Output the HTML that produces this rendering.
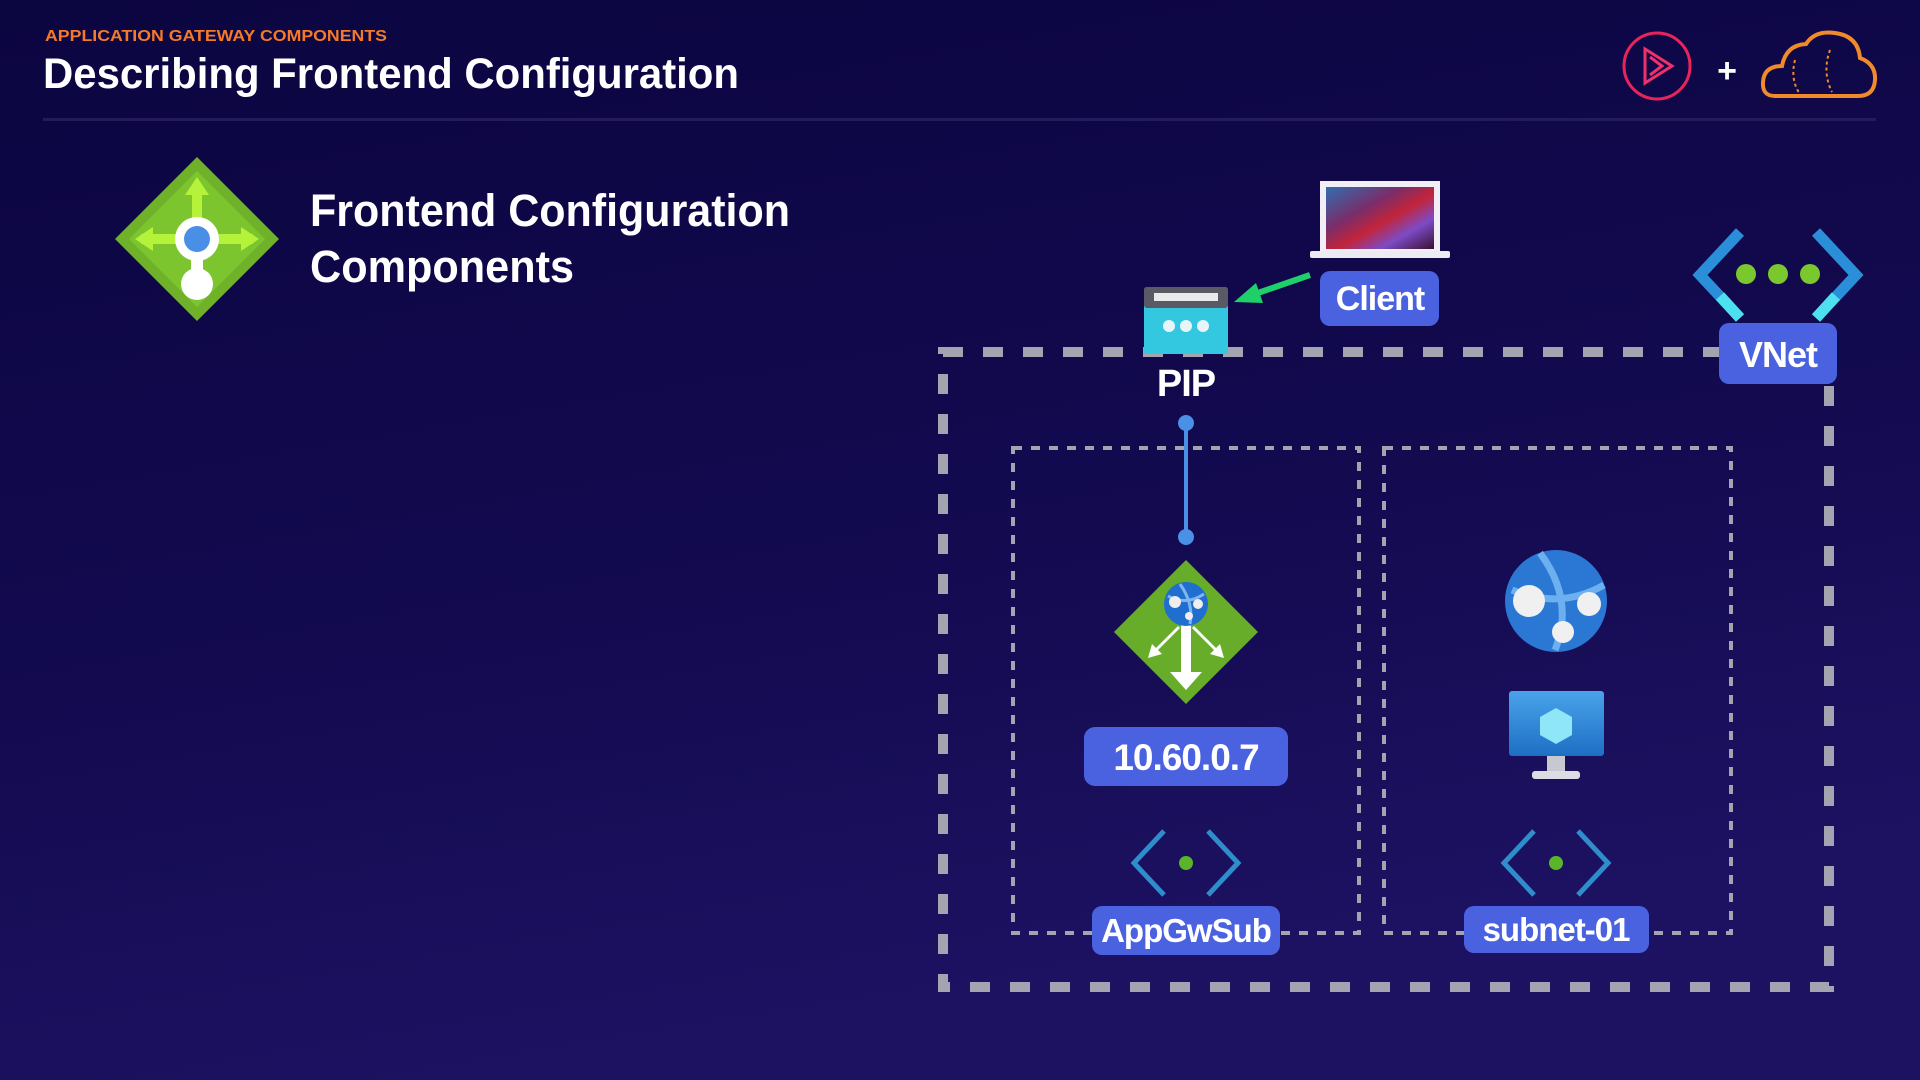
<!DOCTYPE html>
<html><head><meta charset="utf-8"><style>
html,body{margin:0;padding:0;width:1920px;height:1080px;overflow:hidden;background:#0c0640}
svg{display:block}
text{font-family:"Liberation Sans",sans-serif;font-weight:bold}
</style></head><body>
<svg width="1920" height="1080" viewBox="0 0 1920 1080" xmlns="http://www.w3.org/2000/svg">
<defs>
<linearGradient id="bg" x1="0" y1="0" x2="0.3" y2="1">
<stop offset="0" stop-color="#0b0540"/><stop offset="0.6" stop-color="#130a50"/><stop offset="1" stop-color="#1d1262"/>
</linearGradient>
<linearGradient id="scr" x1="0" y1="0" x2="1" y2="1">
<stop offset="0" stop-color="#2f6fb0"/><stop offset="0.35" stop-color="#7a2d6a"/><stop offset="0.55" stop-color="#c2243a"/><stop offset="0.75" stop-color="#7d4bc6"/><stop offset="1" stop-color="#3a1030"/>
</linearGradient>
<linearGradient id="mon" x1="0" y1="0" x2="0" y2="1"><stop offset="0" stop-color="#4aa3ea"/><stop offset="1" stop-color="#1d6fc4"/></linearGradient>
</defs>
<rect width="1920" height="1080" fill="url(#bg)"/>

<!-- header -->
<text x="45" y="41" font-size="16" fill="#f47a2a" textLength="342" lengthAdjust="spacingAndGlyphs">APPLICATION GATEWAY COMPONENTS</text>
<text x="43" y="88" font-size="43" fill="#ffffff" textLength="696" lengthAdjust="spacingAndGlyphs">Describing Frontend Configuration</text>
<rect x="43" y="118" width="1833" height="3" fill="#241c5a"/>

<!-- logos -->
<circle cx="1657" cy="66" r="33" fill="none" stroke="#e8245a" stroke-width="3"/>
<path d="M1645 49 L1672 66 L1645 83 Z M1650 57 L1662 66 L1650 75" fill="none" stroke="#f0306a" stroke-width="3"/>
<text x="1727" y="82" font-size="34" fill="#fff" text-anchor="middle">+</text>
<path d="M1775 96 Q1762 96 1763 82 Q1764 66 1782 66 Q1786 45 1806 44 Q1815 30 1835 33 Q1858 36 1860 58 Q1876 64 1875 80 Q1874 96 1858 96 Z" fill="none" stroke="#f08a2a" stroke-width="4"/>
<path d="M1795 60 Q1790 80 1800 94 M1830 50 Q1822 72 1832 92" fill="none" stroke="#f08a2a" stroke-width="2" stroke-dasharray="3 3"/>

<!-- big icon -->
<g transform="translate(197,239)">
<polygon points="0,-82 82,0 0,82 -82,0" fill="#6fb22a"/>
<polygon points="0,-68 68,0 0,68 -68,0" fill="#7cc52e"/>
<path d="M0 -62 L-12 -44 L12 -44 Z M-62 0 L-44 -12 L-44 12 Z M62 0 L44 -12 L44 12 Z" fill="#b5f23a"/>
<rect x="-56" y="-5" width="112" height="10" fill="#b5f23a"/>
<rect x="-5" y="-48" width="10" height="60" fill="#b5f23a"/>
<circle cx="0" cy="0" r="22" fill="#fff"/>
<circle cx="0" cy="0" r="13" fill="#4a8fe6"/>
<rect x="-6" y="18" width="12" height="20" fill="#fff"/>
<circle cx="0" cy="45" r="16" fill="#fff"/>
</g>
<text x="310" y="226" font-size="45" fill="#fff" textLength="480" lengthAdjust="spacingAndGlyphs">Frontend Configuration</text>
<text x="310" y="282" font-size="45" fill="#fff" textLength="264" lengthAdjust="spacingAndGlyphs">Components</text>

<!-- outer vnet -->
<rect x="943" y="352" width="886" height="635" fill="none" stroke="#a4a4b0" stroke-width="10" stroke-dasharray="20 20"/>
<!-- inner subnets -->
<rect x="1013" y="448" width="346" height="485" fill="none" stroke="#a4a4b0" stroke-width="4" stroke-dasharray="9 9"/>
<rect x="1384" y="448" width="347" height="485" fill="none" stroke="#a4a4b0" stroke-width="4" stroke-dasharray="9 9"/>

<!-- PIP -->
<rect x="1144" y="287" width="84" height="67" rx="3" fill="#33c8e0"/>
<rect x="1144" y="287" width="84" height="21" rx="3" fill="#5a5a66"/>
<rect x="1154" y="293" width="64" height="8" fill="#eaeaea"/>
<circle cx="1169" cy="326" r="6" fill="#e8f4f8"/><circle cx="1186" cy="326" r="6" fill="#e8f4f8"/><circle cx="1203" cy="326" r="6" fill="#e8f4f8"/>
<text x="1186" y="396" font-size="38" fill="#fff" text-anchor="middle" letter-spacing="-1">PIP</text>
<line x1="1186" y1="423" x2="1186" y2="537" stroke="#4a90e6" stroke-width="4"/>
<circle cx="1186" cy="423" r="8" fill="#4a90e6"/><circle cx="1186" cy="537" r="8" fill="#4a90e6"/>

<!-- client -->
<rect x="1320" y="181" width="120" height="72" fill="#f2eef6"/>
<rect x="1326" y="187" width="108" height="62" fill="url(#scr)"/>
<rect x="1310" y="251" width="140" height="7" rx="2" fill="#ecebf2"/>
<rect x="1320" y="271" width="119" height="55" rx="10" fill="#4a62e0"/>
<text x="1380" y="310" font-size="34" fill="#fff" text-anchor="middle" letter-spacing="-1">Client</text>
<line x1="1310" y1="275" x2="1255" y2="294" stroke="#1fcf6a" stroke-width="6"/>
<polygon points="1234,302 1256,283 1263,303" fill="#1fcf6a"/>

<!-- VNet icon -->
<path d="M1740 232 L1700 275 L1740 318" fill="none" stroke="#2a8fd8" stroke-width="11"/>
<path d="M1816 232 L1856 275 L1816 318" fill="none" stroke="#2a8fd8" stroke-width="11"/>
<path d="M1720 296 L1740 318 M1836 296 L1816 318" stroke="#4de0f0" stroke-width="11"/>
<circle cx="1746" cy="274" r="10" fill="#7ac72e"/><circle cx="1778" cy="274" r="10" fill="#7ac72e"/><circle cx="1810" cy="274" r="10" fill="#7ac72e"/>
<rect x="1719" y="323" width="118" height="61" rx="10" fill="#4a62e0"/>
<text x="1778" y="367" font-size="36" fill="#fff" text-anchor="middle" letter-spacing="-1">VNet</text>

<!-- App gateway -->
<g transform="translate(1186,632)">
<polygon points="0,-72 72,0 0,72 -72,0" fill="#67ad2a"/>
<path d="M-5 -10 H5 V40 H16 L0 58 L-16 40 H-5 Z" fill="#fff"/>
<path d="M-8 -6 L-30 16 L-24 22 L-38 26 L-34 12 L-28 18 L-6 -4 Z" fill="#fff"/>
<path d="M8 -6 L30 16 L24 22 L38 26 L34 12 L28 18 L6 -4 Z" fill="#fff"/>
<circle cx="0" cy="-28" r="22" fill="#1f6ed0"/>
<path d="M-18 -36 Q0 -26 18 -38 M-6 -48 Q8 -28 4 -8" stroke="#7fb6f0" stroke-width="3" fill="none"/>
<circle cx="-11" cy="-30" r="6" fill="#eee"/><circle cx="12" cy="-28" r="5" fill="#eee"/><circle cx="3" cy="-16" r="4" fill="#eee"/>
</g>
<rect x="1084" y="727" width="204" height="59" rx="11" fill="#4a62e0"/>
<text x="1186" y="770" font-size="37" fill="#fff" text-anchor="middle" letter-spacing="-1">10.60.0.7</text>

<!-- subnet icon left -->
<g transform="translate(1186,863)" fill="none" stroke="#2f8dcc" stroke-width="5">
<path d="M-22 -32 L-52 0 L-22 32"/><path d="M22 -32 L52 0 L22 32"/>
<circle cx="0" cy="0" r="7" fill="#5ab52a" stroke="none"/>
</g>
<rect x="1092" y="906" width="188" height="49" rx="10" fill="#4a62e0"/>
<text x="1186" y="942" font-size="33" fill="#fff" text-anchor="middle" letter-spacing="-1">AppGwSub</text>

<!-- globe -->
<circle cx="1556" cy="601" r="51" fill="#2a78d4"/>
<path d="M1512 590 Q1560 610 1604 585 M1540 553 Q1575 600 1555 650" stroke="#6cb0f0" stroke-width="7" fill="none"/>
<circle cx="1529" cy="601" r="16" fill="#f0f0f0"/><circle cx="1589" cy="604" r="12" fill="#f0f0f0"/><circle cx="1563" cy="632" r="11" fill="#f0f0f0"/>
<!-- monitor -->
<rect x="1509" y="691" width="95" height="65" rx="3" fill="url(#mon)"/>
<rect x="1547" y="756" width="18" height="16" fill="#c8c8d0"/>
<rect x="1532" y="771" width="48" height="8" rx="3" fill="#dcdce4"/>
<polygon points="1556,708 1572,717 1572,735 1556,744 1540,735 1540,717" fill="#8fe6f8"/>
<!-- subnet icon right -->
<g transform="translate(1556,863)" fill="none" stroke="#2f8dcc" stroke-width="5">
<path d="M-22 -32 L-52 0 L-22 32"/><path d="M22 -32 L52 0 L22 32"/>
<circle cx="0" cy="0" r="7" fill="#5ab52a" stroke="none"/>
</g>
<rect x="1464" y="906" width="185" height="47" rx="10" fill="#4a62e0"/>
<text x="1556" y="941" font-size="33" fill="#fff" text-anchor="middle" letter-spacing="-1">subnet-01</text>
</svg>
</body></html>
